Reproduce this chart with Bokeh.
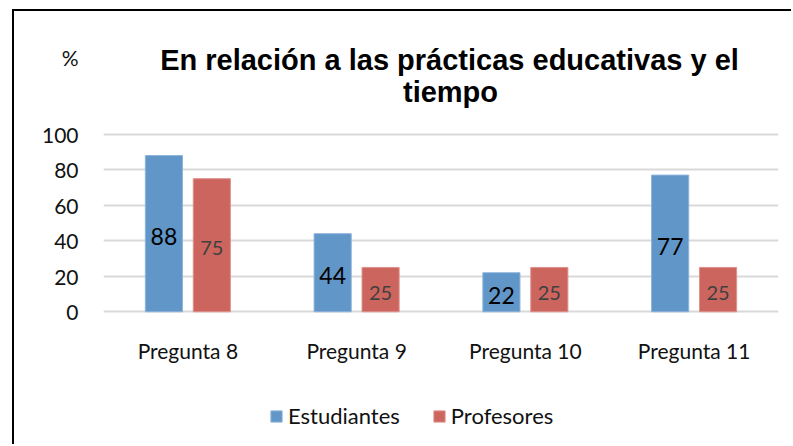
from bokeh.plotting import figure
from bokeh.models import (ColumnDataSource, FactorRange, Range1d, FixedTicker, Label,
                          Legend, LegendItem)
from bokeh.transform import dodge
from bokeh.core.properties import value
from bokeh.embed import file_html
from bokeh.resources import INLINE

# ---- data ----
categories = ["Pregunta 8", "Pregunta 9", "Pregunta 10", "Pregunta 11"]
estudiantes = [88, 44, 22, 77]
profesores = [75, 25, 25, 25]
y_ticks = [0, 20, 40, 60, 80, 100]
series_names = ["Estudiantes", "Profesores"]
title_lines = ["En relación a las prácticas educativas y el", "tiempo"]
y_unit = "%"

BLUE = "#6096C8"
RED = "#CD655F"
FONT = "Lato"
TITLE_FONT = "Liberation Sans"

UNIT_TICK = 143  # where the "%" unit marker sits on the value axis, above the scale

source = ColumnDataSource(dict(
    cat=categories,
    est=estudiantes,
    prof=profesores,
    est_mid=[v / 2 for v in estudiantes],
    prof_mid=[v / 2 for v in profesores],
    est_txt=[str(v) for v in estudiantes],
    prof_txt=[str(v) for v in profesores],
))

p = figure(x_range=FactorRange(*categories, range_padding=0), y_range=Range1d(-75.89, 169.18),
           width=779, height=435, output_backend="svg", toolbar_location=None,
           min_border_left=89, min_border_right=15, min_border_top=0, min_border_bottom=0)
p.styles = {"margin-left": "12px", "margin-top": "9px",
            "border-left": "2px solid #000000", "border-top": "2px solid #000000"}
p.outline_line_color = None
p.background_fill_color = "white"
p.border_fill_color = "white"

p.xgrid.grid_line_color = None
p.ygrid.grid_line_color = "#D9D9D9"
p.ygrid.grid_line_width = 2
p.ygrid.ticker = FixedTicker(ticks=y_ticks)
p.yaxis.ticker = FixedTicker(ticks=y_ticks + [UNIT_TICK])
p.yaxis.major_label_overrides = {UNIT_TICK: y_unit}
p.xaxis.fixed_location = 0

for ax in (p.xaxis, p.yaxis):
    ax.axis_line_color = None
    ax.major_tick_line_color = None
    ax.minor_tick_line_color = None
    ax.major_tick_in = 0
    ax.major_tick_out = 0
    ax.major_label_text_font = FONT
    ax.major_label_text_font_size = "21px"
    ax.major_label_text_color = "#111111"
p.yaxis.major_label_standoff = 25
p.xaxis.major_label_standoff = 26

off = 0.142
w = 0.22
r1 = p.vbar(x=dodge("cat", -off, range=p.x_range), top="est", bottom=0, width=w, source=source,
            fill_color=BLUE, line_color="#8DB3DA", line_width=1)
r2 = p.vbar(x=dodge("cat", off, range=p.x_range), top="prof", bottom=0, width=w, source=source,
            fill_color=RED, line_color="#DE928D", line_width=1)

p.text(x=dodge("cat", -off, range=p.x_range), y="est_mid", text="est_txt", source=source,
       text_align="center", text_baseline="middle", y_offset=3,
       text_font=value(FONT), text_font_size="23px", text_color="#000000")
p.text(x=dodge("cat", off, range=p.x_range), y="prof_mid", text="prof_txt", source=source,
       text_align="center", text_baseline="middle", y_offset=3,
       text_font=value(FONT), text_font_size="20px", text_color="#404040")

# title (two lines), above the value scale
p.add_layout(Label(x=346, y=141.86, x_units="screen", text=title_lines[0], text_align="center",
                   text_baseline="alphabetic", text_font=TITLE_FONT, text_font_size="29px",
                   text_font_style="bold", text_color="#000000"))
p.add_layout(Label(x=347, y=123.83, x_units="screen", text=title_lines[1], text_align="center",
                   text_baseline="alphabetic", text_font=TITLE_FONT, text_font_size="29px",
                   text_font_style="bold", text_color="#000000"))

legend = Legend(items=[LegendItem(label=series_names[0], renderers=[r1]),
                       LegendItem(label=series_names[1], renderers=[r2])],
                location=(166, 17), orientation="horizontal")
legend.glyph_width = 14
legend.glyph_height = 14
legend.label_standoff = 5
legend.spacing = 32
legend.padding = 0
legend.margin = 0
legend.border_line_color = None
legend.background_fill_alpha = 0
legend.label_text_font = FONT
legend.label_text_font_size = "22px"
legend.label_text_color = "#111111"
p.add_layout(legend, "center")

open("out.html", "w").write(file_html(p, INLINE))
